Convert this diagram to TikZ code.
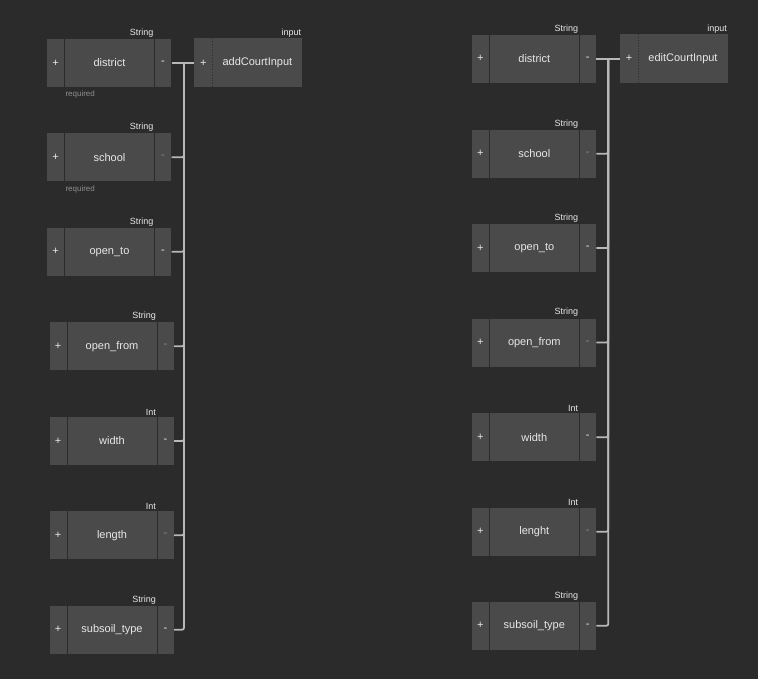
\documentclass[tikz,border=0pt]{standalone}
\usepackage{fontspec}
\setmainfont{Liberation Sans}
\usetikzlibrary{positioning}
\definecolor{CanvasGray}{HTML}{2B2B2B}
\definecolor{BoxGray}{HTML}{4A4A4A}
\definecolor{LabelWhite}{HTML}{E8E8E8}
\definecolor{DimGray}{HTML}{8E8E8E}
\definecolor{WireGray}{HTML}{B8B8B8}
\newcommand{\fieldbox}[6]{% name, x, y, field, type, minus style
  \node[fieldmain] (#1) at (#2,#3) {#4};
  \node[pluscell,left=0pt of #1] (#1p) {+};
  \node[#6,right=0pt of #1] (#1m) {-};
  \node[typelabel] (#1t) at (#1.north east) {#5};}

\begin{document}
\begin{tikzpicture}[
  x=1pt,y=-1pt,
  every node/.style={font=\fontsize{11}{13}\selectfont,text=LabelWhite,
    outer sep=0pt,inner sep=0pt},
  fieldmain/.style={fill=BoxGray,draw=CanvasGray,line width=0.8pt,
    minimum width=90pt,minimum height=49pt},
  pluscell/.style={fill=BoxGray,draw=CanvasGray,line width=0.8pt,
    minimum width=18pt,minimum height=49pt},
  minuscell/.style={fill=BoxGray,draw=CanvasGray,line width=0.8pt,
    minimum width=17pt,minimum height=49pt},
  dimcell/.style={minuscell,text=DimGray},
  inplus/.style={fill=BoxGray,minimum width=18pt,minimum height=49pt},
  typelabel/.style={font=\fontsize{9}{10}\selectfont,anchor=south east,
    inner sep=1.2pt},
  reqlabel/.style={font=\fontsize{8}{9}\selectfont,text=DimGray,
    anchor=north west,inner sep=1pt,yshift=-2.5pt},
  wire/.style={draw=WireGray,line width=1.8pt,rounded corners=2pt}
]
  \fill[CanvasGray] (0,0) rectangle (758,679);
  \useasboundingbox (0,0) rectangle (758,679);

  % add form
  \fieldbox{adistrict}{109.5}{63}{district}{String}{minuscell}
  \node[reqlabel] (areq1) at (adistrict.south west) {required};
  \fieldbox{aschool}{109.5}{157.3}{school}{String}{dimcell}
  \node[reqlabel] (areq2) at (aschool.south west) {required};
  \fieldbox{aopento}{109.5}{251.8}{open\_to}{String}{minuscell}
  \fieldbox{aopenfrom}{112}{346.3}{open\_from}{String}{dimcell}
  \fieldbox{awidth}{112}{441}{width}{Int}{minuscell}
  \fieldbox{alength}{112}{535.3}{length}{Int}{dimcell}
  \fieldbox{asubsoil}{112}{629.7}{subsoil\_type}{String}{minuscell}

  \node[fieldmain,draw=none] (addin) at (257.4,63) {addCourtInput};
  \node[inplus,left=0pt of addin] (addinp) {+};
  \node[typelabel] (addint) at (addin.north east) {input};
  \draw[CanvasGray,dotted,line width=0.8pt] (addinp.north east) -- (addinp.south east);

  \coordinate (ajoin) at (184,63);
  \draw[wire] (adistrictm.east) -- (addinp.west);
  \draw[wire] (aschoolm.east) -| (ajoin);
  \draw[wire] (aopentom.east) -| (ajoin);
  \draw[wire] (aopenfromm.east) -| (ajoin);
  \draw[wire] (awidthm.east) -| (ajoin);
  \draw[wire] (alengthm.east) -| (ajoin);
  \draw[wire] (asubsoilm.east) -| (ajoin);

  % edit form
  \fieldbox{edistrict}{534.3}{58.8}{district}{String}{minuscell}
  \fieldbox{eschool}{534.3}{153.7}{school}{String}{dimcell}
  \fieldbox{eopento}{534.3}{248}{open\_to}{String}{minuscell}
  \fieldbox{eopenfrom}{534.3}{342.5}{open\_from}{String}{dimcell}
  \fieldbox{ewidth}{534.3}{437.2}{width}{Int}{minuscell}
  \fieldbox{elenght}{534.3}{531.7}{lenght}{Int}{dimcell}
  \fieldbox{esubsoil}{534.3}{625.8}{subsoil\_type}{String}{minuscell}

  \node[fieldmain,draw=none] (editin) at (683,58.8) {editCourtInput};
  \node[inplus,left=0pt of editin] (editinp) {+};
  \node[typelabel] (editint) at (editin.north east) {input};
  \draw[CanvasGray,dotted,line width=0.8pt] (editinp.north east) -- (editinp.south east);

  \coordinate (ejoin) at (608.3,58.8);
  \draw[wire] (edistrictm.east) -- (editinp.west);
  \draw[wire] (eschoolm.east) -| (ejoin);
  \draw[wire] (eopentom.east) -| (ejoin);
  \draw[wire] (eopenfromm.east) -| (ejoin);
  \draw[wire] (ewidthm.east) -| (ejoin);
  \draw[wire] (elenghtm.east) -| (ejoin);
  \draw[wire] (esubsoilm.east) -| (ejoin);
\end{tikzpicture}
\end{document}
